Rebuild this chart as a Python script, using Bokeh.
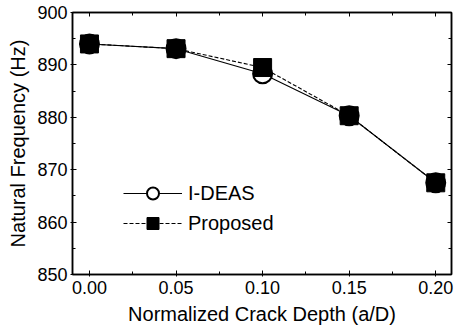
from bokeh.plotting import figure
from bokeh.models import (Range1d, FixedTicker, LinearAxis, Legend, LegendItem,
                          NumeralTickFormatter, CustomJSTickFormatter)
from bokeh.embed import file_html
from bokeh.resources import INLINE

# Data
crack_depth = [0.00, 0.05, 0.10, 0.15, 0.20]
ideas_freq = [894.0, 893.1, 888.3, 880.3, 867.5]
proposed_freq = [894.0, 893.1, 889.5, 880.3, 867.5]

x_major = [0.00, 0.05, 0.10, 0.15, 0.20]
x_minor = [0.025, 0.075, 0.125, 0.175]
y_major = [850, 860, 870, 880, 890, 900]
y_minor = [855, 865, 875, 885, 895]

FONT = "Liberation Sans"

p = figure(width=454, height=327, output_backend="svg", toolbar_location=None,
           x_range=Range1d(-0.0098, 0.2091), y_range=Range1d(850, 900),
           min_border_left=72, min_border_right=3, min_border_top=12,
           min_border_bottom=53)
p.background_fill_color = "white"
p.border_fill_color = "white"
p.outline_line_color = "black"
p.outline_line_width = 1.5
p.xgrid.visible = False
p.ygrid.visible = False

xt = FixedTicker(ticks=x_major, minor_ticks=x_minor)
yt = FixedTicker(ticks=y_major, minor_ticks=y_minor)

xa = p.xaxis[0]
xa.ticker = xt
xa.formatter = NumeralTickFormatter(format="0.00")
xa.axis_label = "Normalized Crack Depth (a/D)"
ya = p.yaxis[0]
ya.ticker = yt
ya.axis_label = "Natural Frequency (Hz)"

for ax in (xa, ya):
    ax.axis_line_color = "black"
    ax.axis_line_width = 1.5
    ax.major_tick_line_color = "black"
    ax.minor_tick_line_color = "black"
    ax.major_tick_in = 4
    ax.major_tick_out = 2
    ax.minor_tick_in = 3
    ax.minor_tick_out = 0
    ax.major_label_text_font = FONT
    ax.major_label_text_font_size = "18px"
    ax.major_label_text_color = "black"
    ax.axis_label_text_font = FONT
    ax.axis_label_text_font_size = "20px"
    ax.axis_label_text_font_style = "normal"
    ax.axis_label_text_color = "black"
ya.major_label_standoff = 3
xa.major_label_standoff = 4
ya.axis_label_standoff = 5
xa.axis_label_standoff = 6

blank = CustomJSTickFormatter(code="return ''")
top = LinearAxis(ticker=xt, formatter=blank)
right = LinearAxis(ticker=yt, formatter=blank)
for ax in (top, right):
    ax.axis_line_color = "black"
    ax.axis_line_width = 1.5
    ax.major_tick_in = 4
    ax.major_tick_out = 0
    ax.minor_tick_in = 3
    ax.minor_tick_out = 0
    ax.major_label_standoff = 0
    ax.major_label_text_font_size = "1px"
p.add_layout(top, "above")
p.add_layout(right, "right")

l1 = p.line(crack_depth, ideas_freq, line_color="black", line_width=1.1)
l2 = p.line(crack_depth, proposed_freq, line_color="black", line_width=1.1,
            line_dash="4 2")
c1 = p.scatter(crack_depth, ideas_freq, marker="circle", size=19,
               fill_color="white", line_color="black", line_width=2)
s2 = p.scatter(crack_depth, proposed_freq, marker="square", size=18,
               fill_color="black", line_color="black", line_width=1)

legend = Legend(items=[LegendItem(label="I-DEAS", renderers=[l1, c1]),
                       LegendItem(label="Proposed", renderers=[l2, s2])],
                location=(51, 36))
legend.label_text_font = FONT
legend.label_text_font_size = "20px"
legend.label_text_color = "black"
legend.glyph_width = 59
legend.glyph_height = 30
legend.spacing = -5
legend.label_standoff = 6
legend.padding = 0
legend.margin = 0
legend.border_line_color = None
legend.background_fill_alpha = 0
p.add_layout(legend, "center")

open("out.html", "w").write(file_html(p, INLINE))
